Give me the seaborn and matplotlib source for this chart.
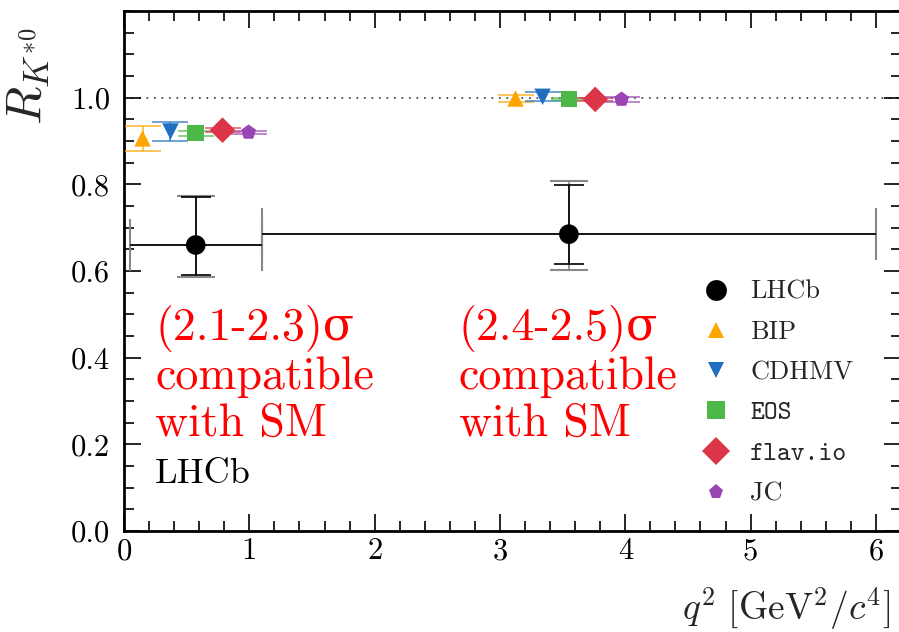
import matplotlib
matplotlib.use("Agg")
import matplotlib.pyplot as plt
import seaborn as sns
import pandas as pd
from matplotlib.lines import Line2D
from matplotlib.ticker import MultipleLocator

# ---------------- data ----------------
bin_lo = [0.045, 1.1]
bin_hi = [1.1, 6.0]
lhcb_q2 = [0.5725, 3.55]
lhcb_val = [0.660, 0.685]
lhcb_stat_up = [0.110, 0.113]
lhcb_stat_dn = [0.070, 0.069]
lhcb_tot_up = [0.113, 0.122]
lhcb_tot_dn = [0.074, 0.083]

models = ["BIP", "CDHMV", "EOS", "flav.io", "JC"]
bip_q2 = [0.148, 3.124]
bip_val = [0.906, 0.998]
bip_err = [0.028, 0.009]
cdhmv_q2 = [0.371, 3.34]
cdhmv_val = [0.922, 1.002]
cdhmv_err = [0.022, 0.010]
eos_q2 = [0.571, 3.55]
eos_val = [0.918, 0.997]
eos_err = [0.006, 0.003]
flavio_q2 = [0.786, 3.76]
flavio_val = [0.925, 0.996]
flavio_err = [0.005, 0.003]
jc_q2 = [0.994, 3.97]
jc_val = [0.920, 0.996]
jc_err = [0.004, 0.005]

sm_line = 1.0
texts = ["(2.1-2.3)σ\ncompatible\nwith SM", "(2.4-2.5)σ\ncompatible\nwith SM"]
text_x = [0.25, 2.67]
x_ticks = [0, 1, 2, 3, 4, 5, 6]
y_ticks = [0.0, 0.2, 0.4, 0.6, 0.8, 1.0]

# ---------------- style ----------------
sns.set_theme(style="ticks")
plt.rcParams.update({
    "font.family": ["cmr10", "DejaVu Serif"],
    "mathtext.fontset": "cm",
    "axes.formatter.use_mathtext": True,
    "axes.unicode_minus": False,
})

theory = pd.DataFrame({
    "model": sum([[m] * 2 for m in models], []),
    "q2": bip_q2 + cdhmv_q2 + eos_q2 + flavio_q2 + jc_q2,
    "val": bip_val + cdhmv_val + eos_val + flavio_val + jc_val,
    "err": bip_err + cdhmv_err + eos_err + flavio_err + jc_err,
})

colors = {"BIP": "#FFA500", "CDHMV": "#1F6EBF", "EOS": "#4CB848",
          "flav.io": "#DC3548", "JC": "#9B45B5"}
markers = {"BIP": "^", "CDHMV": "v", "EOS": "s", "flav.io": "D", "JC": "p"}
msize = {"BIP": 140, "CDHMV": 140, "EOS": 140, "flav.io": 170, "JC": 130}
leg_ms = {"BIP": 12, "CDHMV": 12, "EOS": 13, "flav.io": 14, "JC": 11}

fig = plt.figure(figsize=(8.99, 6.32), dpi=100)
ax = fig.add_axes([124 / 899, 1 - 531 / 632, 777 / 899, 520 / 632])

ax.axhline(sm_line, color="#333333", lw=1.2, dashes=(1, 3.5), zorder=0)

# LHCb measurement
for i in range(2):
    hw = (bin_hi[i] - bin_lo[i]) / 2
    xc = (bin_hi[i] + bin_lo[i]) / 2
    ax.errorbar(xc, lhcb_val[i], xerr=hw, fmt="none", ecolor="#888888",
                elinewidth=1.2, capsize=19, capthick=1.5, zorder=2)
    ax.errorbar(xc, lhcb_val[i], xerr=hw, fmt="none", ecolor="black",
                elinewidth=1.2, capsize=0, zorder=3)
    ax.errorbar(lhcb_q2[i], lhcb_val[i],
                yerr=[[lhcb_tot_dn[i]], [lhcb_tot_up[i]]], fmt="none",
                ecolor="#888888", elinewidth=1.2, capsize=13.5, capthick=1.5, zorder=3)
    ax.errorbar(lhcb_q2[i], lhcb_val[i],
                yerr=[[lhcb_stat_dn[i]], [lhcb_stat_up[i]]], fmt="none",
                ecolor="black", elinewidth=1.2, capsize=10.5, capthick=1.2, zorder=4)
sns.scatterplot(x=lhcb_q2, y=lhcb_val, color="black", marker="o", s=200,
                edgecolor="none", ax=ax, zorder=5, legend=False)

# Theory predictions
for m in models:
    d = theory[theory["model"] == m]
    ax.errorbar(d["q2"], d["val"], yerr=d["err"], fmt="none",
                ecolor=colors[m], alpha=0.7, elinewidth=1.3, capsize=13,
                capthick=1.3, zorder=3)
    sns.scatterplot(data=d, x="q2", y="val", color=colors[m], marker=markers[m],
                    s=msize[m], edgecolor="none", ax=ax, zorder=4, legend=False)

# Texts
for tx, t in zip(text_x, texts):
    ax.text(tx, 0.522, t, color="red", fontsize=33, va="top", ha="left",
            linespacing=1.15)
ax.text(0.25, 0.11, "LHCb", color="black", fontsize=26, ha="left", va="baseline")

# Axes
ax.set_xlim(0, 6.2)
ax.set_ylim(0, 1.2)
ax.set_xticks(x_ticks)
ax.set_xticklabels([str(v) for v in x_ticks], fontsize=22)
ax.set_yticks(y_ticks)
ax.set_yticklabels([f"{v:.1f}" for v in y_ticks], fontsize=22)
ax.xaxis.set_minor_locator(MultipleLocator(0.2))
ax.yaxis.set_minor_locator(MultipleLocator(0.05))
ax.tick_params(which="both", direction="in", top=True, right=True, width=1.2,
               colors="black")
ax.tick_params(which="major", length=12)
ax.tick_params(which="minor", length=7)
ax.tick_params(axis="y", which="both", pad=10)
ax.tick_params(axis="x", which="both", pad=5)
for sp in ax.spines.values():
    sp.set_linewidth(2)
    sp.set_color("black")

ax.set_ylabel(r"$R_{K^{*0}}$", fontsize=36)
ax.yaxis.set_label_coords(-0.094, 0.968)
ax.yaxis.label.set_horizontalalignment("right")
ax.set_xlabel(r"$q^2\ [\mathrm{GeV}^2/c^4]$", fontsize=27)
ax.xaxis.set_label_coords((890 - 124) / 777, -0.105)
ax.xaxis.label.set_horizontalalignment("right")

# Legend
handles = [Line2D([], [], ls="none", marker="o", color="black", ms=15,
                  markeredgewidth=0)]
for m in models:
    handles.append(Line2D([], [], ls="none", marker=markers[m], color=colors[m],
                          ms=leg_ms[m], markeredgewidth=0))
leg = ax.legend(handles, ["LHCb"] + models, loc="lower right",
                bbox_to_anchor=(0.952, 0.028), frameon=False, fontsize=19,
                handlelength=1.2, handletextpad=0.7, labelspacing=0.62,
                borderaxespad=0)
for t in leg.get_texts():
    if t.get_text() in ("EOS", "flav.io"):
        t.set_fontfamily("cmtt10")

fig.savefig("out.png", dpi=100)
